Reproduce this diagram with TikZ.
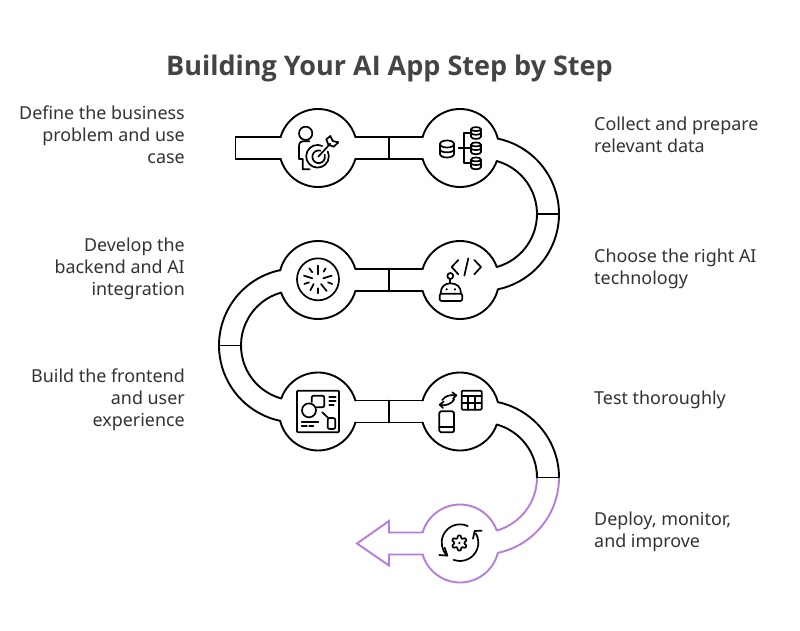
\documentclass[tikz,border=0pt]{standalone}
\usepackage{fontspec}
\usetikzlibrary{calc}
\setmainfont{Noto Sans}
\newfontfamily\ttlfont{Open Sans}
\definecolor{purp}{HTML}{B57EDC}
\definecolor{ink}{HTML}{333333}
\definecolor{ttl}{HTML}{444444}
\tikzset{
  band/.style={line width=1.9pt,black,line join=round,line cap=round},
  pband/.style={line width=1.9pt,purp,line join=miter,line cap=round},
  ico/.style={line width=1.7pt,black,line join=round,line cap=round},
  lab/.style={font=\fontsize{17.9}{22}\selectfont,text=ink,inner sep=0pt},
  labl/.style={lab,anchor=east,align=right},
  labr/.style={lab,anchor=west,align=left},
}
\newcommand{\carc}[4][band]{\draw[#1] (#2) ++(#3:39) arc[start angle=#3,end angle=#4,radius=39pt];}
\newcommand{\barc}[5][band]{\draw[#1] (#2) ++(#3:#5) arc[start angle=#3,end angle=#4,radius=#5 pt];}
\begin{document}
\begin{tikzpicture}[x=1pt,y=1pt,yscale=-1]
\useasboundingbox (0,0) rectangle (800,631);
\fill[white] (0,0) rectangle (800,631);
\coordinate (c1) at (318,148);
\coordinate (c2) at (460,148);
\coordinate (c3) at (460,280);
\coordinate (c4) at (318,280);
\coordinate (c5) at (318,411.5);
\coordinate (c6) at (460,411.5);
\coordinate (c7) at (460,543.5);
\coordinate (r1) at (482,214);
\coordinate (r2) at (296,345.5);
\coordinate (r3) at (482,477.5);
% circles
\carc{c1}{196.4}{343.6} \carc{c1}{16.4}{163.6}
\carc{c2}{196.4}{346.1} \carc{c2}{19.5}{163.6}
\carc{c3}{196.4}{340.5} \carc{c3}{13.9}{163.6}
\carc{c4}{193.9}{343.6} \carc{c4}{16.4}{160.5}
\carc{c5}{199.5}{343.6} \carc{c5}{16.4}{166.1}
\carc{c6}{196.4}{346.1} \carc{c6}{19.5}{163.6}
\carc[pband]{c7}{196.4}{340.5} \carc[pband]{c7}{13.9}{163.6}
% bends
\barc{r1}{-78.1}{78.1}{77} \barc{r1}{-74.4}{74.4}{55}
\barc{r2}{258.1}{101.9}{77} \barc{r2}{254.4}{105.6}{55}
\barc[pband]{r3}{0}{78.1}{77} \barc[pband]{r3}{0}{74.4}{55}
\barc{r3}{-78.1}{0}{77} \barc{r3}{-74.4}{0}{55}
% bands
\draw[band] (281,137) -- (235.5,137) -- (235.5,159) -- (281,159);
\foreach \y in {137,159,269,291,400.5,422.5}{\draw[band] (355.4,\y) -- (422.6,\y);}
\draw[band] (389,137) -- (389,159);
\draw[band] (389,269) -- (389,291);
\draw[band] (389,400.5) -- (389,422.5);
\draw[band] (537,214) -- (559,214);
\draw[band] (219,345.5) -- (241,345.5);
\draw[band] (537,477.5) -- (559,477.5);
\draw[pband] (422.6,532.5) -- (389,532.5) -- (389,521) -- (357,543.5) -- (389,565.5) -- (389,554.5) -- (422.6,554.5);
% icon 1
\begin{scope}[shift={(285,110)},scale=0.3333]
\draw[ico] (62,70) circle (20);
\draw[ico] (73,94) -- (55,94) .. controls (45,94) and (42,100) .. (42,110) -- (42,147) -- (53,147) -- (53,178) -- (74,178);
\draw[ico] (112,108) arc[start angle=295,end angle=-25,radius=34];
\draw[ico] (106,122) arc[start angle=285,end angle=-20,radius=19];
\draw[ico] (100,140) -- (136,101);
\draw[ico] (124,88) -- (130,104) -- (146,110);
\draw[ico] (136,78) -- (143,93) -- (160,97);
\draw[ico] (124,88) -- (136,78);
\draw[ico] (146,110) -- (160,97);
\end{scope}
% icon 2
\begin{scope}[shift={(425,110)},scale=0.3333]
\draw[ico] (45,102) .. controls (45,88) and (87,88) .. (87,102) -- (87,132) .. controls (87,146) and (45,146) .. (45,132) -- cycle;
\draw[ico] (45,102) .. controls (45,116) and (87,116) .. (87,102);
\draw[ico] (45,118) .. controls (45,130) and (87,130) .. (87,118);
\draw[ico] (101,114) -- (133,114);
\draw[ico] (133,68) -- (117,68) -- (117,158) -- (133,158);
\foreach \yy in {52,98,143}{
\draw[ico] (138,\yy+6) .. controls (138,\yy-3) and (168,\yy-3) .. (168,\yy+6) -- (168,\yy+28) .. controls (168,\yy+37) and (138,\yy+37) .. (138,\yy+28) -- cycle;
\draw[ico] (138,\yy+6) .. controls (138,\yy+13) and (168,\yy+13) .. (168,\yy+6);
\draw[ico] (138,\yy+17) .. controls (138,\yy+24) and (168,\yy+24) .. (168,\yy+17);
}
\end{scope}
% icon 3
\begin{scope}[shift={(425,245)},scale=0.3333]
\draw[ico] (100,45) -- (80,66) -- (100,88);
\draw[ico] (130,40) -- (118,92);
\draw[ico] (148,45) -- (168,66) -- (148,88);
\draw[ico] (76,93) circle (9);
\draw[ico] (76,102) -- (76,115);
\draw[ico] (47,145) .. controls (47,125) and (60,115) .. (76,115) .. controls (95,115) and (108,125) .. (108,145);
\draw[ico,rounded corners=2pt] (44,146) rectangle (112,168);
\fill (65,133) circle (3.6);
\fill (90,133) circle (3.6);
\end{scope}
% icon 4
\begin{scope}[shift={(285,245)},scale=0.3333]
\draw[ico] (99,103) circle (63);
\draw[ico] (98,62) -- (98,88);
\draw[ico] (122,70) -- (116,80);
\draw[ico] (140,92) -- (115,100);
\draw[ico] (142,117) -- (129,112);
\draw[ico] (125,138) -- (108,117);
\draw[ico] (98,145) -- (98,130);
\draw[ico] (76,136) -- (86,117);
\draw[ico] (58,117) -- (72,112);
\draw[ico] (57,92) -- (82,100);
\draw[ico] (73,70) -- (82,82);
\end{scope}
% icon 5
\begin{scope}[shift={(285,378)},scale=0.3333]
\draw[ico,rounded corners=1pt] (36,38) rectangle (162,163);
\draw[ico] (72,97) circle (21);
\draw[ico,rounded corners=2pt] (80,72) -- (80,53) -- (118,53) -- (118,88) -- (93,88);
\draw[ico] (133,58) -- (152,58);
\draw[ico] (133,70) -- (152,70);
\draw[ico] (133,82) -- (146,82);
\draw[ico] (112,103) -- (130,120);
\draw[ico,rounded corners=2pt] (128,120) rectangle (151,153);
\draw[ico] (50,132) -- (100,132);
\draw[ico] (50,145) -- (66,145);
\draw[ico] (73,145) -- (85,145);
\end{scope}
% icon 6
\begin{scope}[shift={(425,378)},scale=0.3333]
\draw[ico,rounded corners=1pt] (110,38) rectangle (170,95);
\draw[ico] (110,55) -- (170,55);
\draw[ico] (110,75) -- (170,75);
\draw[ico] (130,55) -- (130,95);
\draw[ico] (150,55) -- (150,95);
\draw[ico,rounded corners=1.5pt] (43,100) rectangle (87,163);
\draw[ico] (43,146) -- (87,146);
\draw[ico] (52,66) .. controls (60,54) and (75,49) .. (93,52);
\draw[ico] (82,43) -- (94,52) -- (84,62);
\draw[ico] (88,64) .. controls (80,78) and (62,84) .. (45,81);
\draw[ico] (56,71) -- (44,80) -- (54,90);
\end{scope}
% icon 7
\begin{scope}[shift={(425,510)},scale=0.3333]
\draw[ico] (105,98) ++(-65:55) arc[start angle=-65,end angle=-225,radius=55];
\draw[ico] (43,135) -- (67,137) -- (59,113);
\draw[ico] (105,98) ++(110:55) arc[start angle=110,end angle=-30,radius=55];
\draw[ico] (170,62) -- (149,63) -- (144,86);
\draw[ico,rounded corners=0.6pt] ($(103,99)+(81:23)$)
  -- ($(103,99)+(99:23)$) -- ($(103,99)+(120:14)$)
  -- ($(103,99)+(141:23)$) -- ($(103,99)+(159:23)$) -- ($(103,99)+(180:14)$)
  -- ($(103,99)+(201:23)$) -- ($(103,99)+(219:23)$) -- ($(103,99)+(240:14)$)
  -- ($(103,99)+(261:23)$) -- ($(103,99)+(279:23)$) -- ($(103,99)+(300:14)$)
  -- ($(103,99)+(321:23)$) -- ($(103,99)+(339:23)$) -- ($(103,99)+(0:14)$)
  -- ($(103,99)+(21:23)$) -- ($(103,99)+(39:23)$) -- ($(103,99)+(60:14)$)
  -- cycle;
\fill (103,99) circle (4);
\end{scope}
% text
\node[font=\ttlfont\fontsize{27}{30}\selectfont\bfseries,text=ttl,inner sep=0pt] (title) at (389.5,68) {Building Your AI App Step by Step};
\node[labl] (t1) at (185,137) {\strut Define the business\\problem and use\\case\strut};
\node[labr] (t2) at (594,137) {\strut Collect and prepare\\relevant data\strut};
\node[labr] (t3) at (594,269) {\strut Choose the right AI\\technology\strut};
\node[labl] (t4) at (185,269) {\strut Develop the\\backend and AI\\integration\strut};
\node[labl] (t5) at (185,400.5) {\strut Build the frontend\\and user\\experience\strut};
\node[labr] (t6) at (594,400.5) {\strut Test thoroughly\strut};
\node[labr] (t7) at (594,532) {\strut Deploy, monitor,\\and improve\strut};
\end{tikzpicture}
\end{document}
